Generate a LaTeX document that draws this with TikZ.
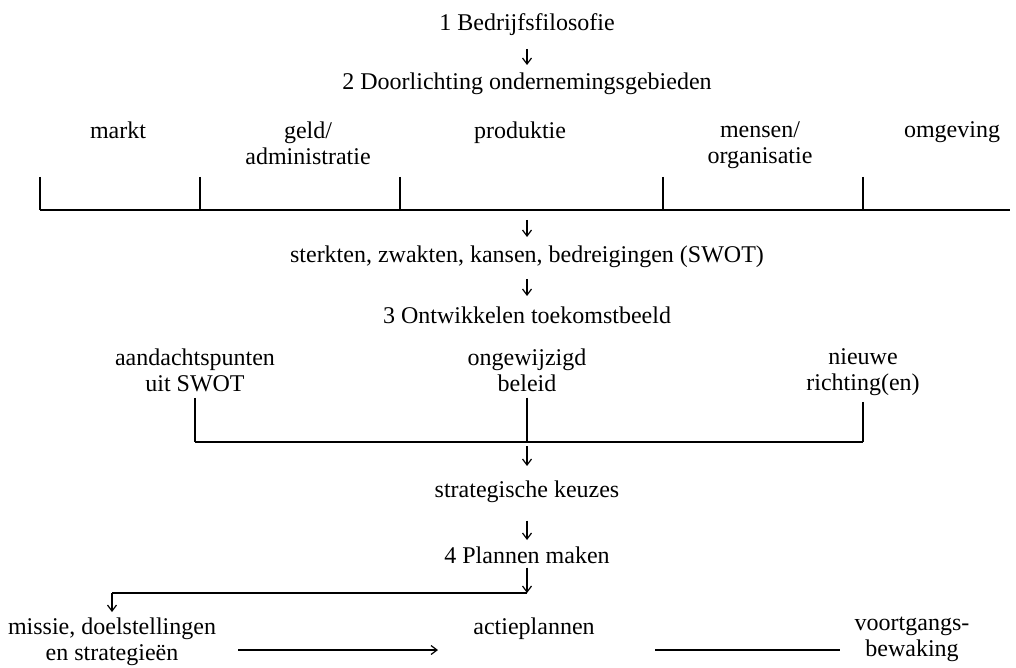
\documentclass[tikz,border=0pt]{standalone}
\usepackage{fontspec}
\setmainfont{Liberation Serif}
\usetikzlibrary{arrows.meta}
\begin{document}
\begin{tikzpicture}[x=0.5pt,y=-0.5pt,
	tekst/.style={anchor=north,inner sep=1pt,align=center,font=\fontsize{12}{13}\selectfont},
	pijl/.style={semithick,-{Straight Barb[length=3pt,width=4.5pt]},shorten <=5pt,shorten >=3pt},
	lijn/.style={semithick}]
	\useasboundingbox (0,0) rectangle (1016,668);

	% 1 en 2
	\node[tekst] (filosofie) at (527,11) {1 Bedrijfsfilosofie};
	\node[tekst] (doorlichting) at (527,70) {2 Doorlichting ondernemingsgebieden};
	\draw[pijl,shorten <=5.5pt,shorten >=2.5pt] (filosofie) -- (doorlichting);

	% ondernemingsgebieden
	\node[tekst] (markt) at (118,119) {markt};
	\node[tekst] (geld) at (308,119) {geld/\\administratie};
	\node[tekst] (produktie) at (520,119) {produktie};
	\node[tekst] (mensen) at (760,119) {mensen/\\organisatie};
	\node[tekst] (omgeving) at (952,119) {omgeving};
	\coordinate (balkA) at (527,210);
	\draw[lijn] (40,210) -- (1010,210);
	\foreach \x in {40,200,400,663,863}
		\draw[lijn] (\x,177) -- (\x,210);

	% SWOT
	\node[tekst] (swot) at (527,243) {sterkten, zwakten, kansen, bedreigingen (SWOT)};
	\draw[pijl] (balkA) -- (swot);
	\node[tekst] (toekomst) at (527,304) {3 Ontwikkelen toekomstbeeld};
	\draw[pijl,shorten <=4.6pt,shorten >=4pt] (swot) -- (toekomst);

	% richtingen
	\node[tekst] (aandacht) at (195,346) {aandachtspunten\\uit SWOT};
	\node[tekst] (beleid) at (527,346) {ongewijzigd\\beleid};
	\node[tekst] (richting) at (863,346) {nieuwe\\richting(en)};
	\coordinate (balkB) at (527,442);
	\foreach \n in {aandacht,beleid,richting}
		\draw[lijn] ([yshift=-2pt]\n.south) -- (\n.south |- balkB);
	\draw[lijn] (aandacht.south |- balkB) -- (richting.south |- balkB);

	% keuzes en plannen
	\node[tekst] (keuzes) at (527,478) {strategische keuzes};
	\draw[pijl,shorten <=2pt,shorten >=6pt] (balkB) -- (keuzes);
	\node[tekst] (plannen) at (527,544) {4 Plannen maken};
	\draw[pijl,shorten <=8pt,shorten >=2pt] (keuzes) -- (plannen);

	% uitvoering
	\node[tekst] (missie) at (112,615) {missie, doelstellingen\\en strategieën};
	\node[tekst] (actie) at (534,615) {actieplannen};
	\node[tekst] (voortgang) at (912,615) {voortgangs-\\bewaking};
	\coordinate (hoekR) at (527,593);
	\coordinate (hoekL) at (missie.north |- hoekR);
	\draw[pijl,shorten <=1pt,shorten >=0pt] (plannen) -- (hoekR);
	\draw[lijn] (hoekR) -- (hoekL);
	\draw[pijl,shorten <=0pt,shorten >=1.5pt] (hoekL) -- (missie);
	\coordinate (m1) at (238,650);
	\coordinate (a1) at (438,650);
	\coordinate (a2) at (655,650);
	\coordinate (v1) at (840,650);
	\draw[pijl,shorten <=0pt,shorten >=0pt] (m1) -- (a1);
	\draw[lijn] (a2) -- (v1);
\end{tikzpicture}
\end{document}
